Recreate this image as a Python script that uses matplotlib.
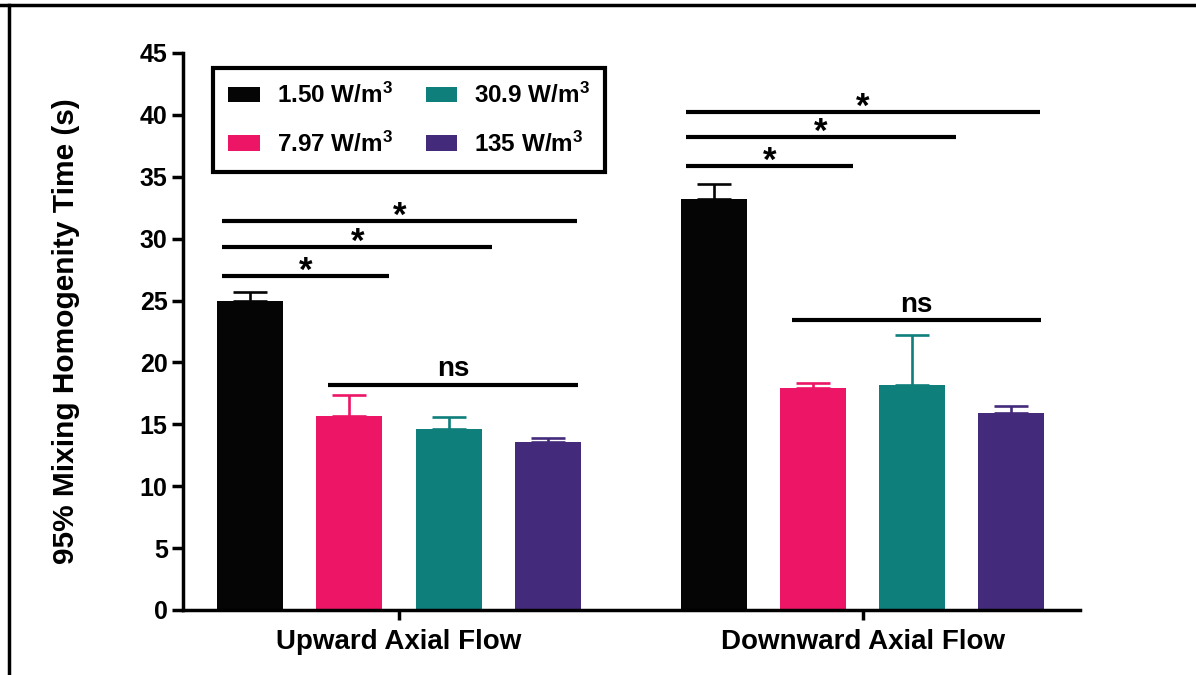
import numpy as np
import matplotlib
matplotlib.use("Agg")
import matplotlib.pyplot as plt
from matplotlib.lines import Line2D
from matplotlib.patches import Patch

plt.rcParams['font.family'] = ['Liberation Sans', 'DejaVu Sans']
plt.rcParams['font.weight'] = 'bold'
plt.rcParams['mathtext.fontset'] = 'custom'
plt.rcParams['mathtext.rm'] = 'Liberation Sans:bold'
plt.rcParams['mathtext.bf'] = 'Liberation Sans:bold'
plt.rcParams['mathtext.default'] = 'bf'

# data
groups = ["Upward Axial Flow", "Downward Axial Flow"]
series = ["1.50 W/m$^{3}$", "7.97 W/m$^{3}$", "30.9 W/m$^{3}$", "135 W/m$^{3}$"]
colors = ["#050505", "#ED1666", "#0F7F7B", "#442A7A"]
upward = [25.0, 15.7, 14.6, 13.6]
upward_err = [0.7, 1.65, 1.0, 0.28]
downward = [33.2, 17.9, 18.2, 15.9]
downward_err = [1.25, 0.46, 4.03, 0.56]

# significance brackets: (start, end) in bar slots within group, heights per group
star_spans = [(-0.28, 3.29), (-0.28, 2.44), (-0.28, 1.40)]
star_heights = [[31.4, 29.3, 27.0], [40.25, 38.2, 35.9]]
ns_span = (0.79, 3.30)
ns_heights = [18.2, 23.4]

group_offset = [0.0, 4.67]
bar_w = 0.665

fig = plt.figure(figsize=(11.96, 6.75), dpi=100)
ax = fig.add_axes([0.153, 0.0963, 0.750, 0.8252])

values = [upward, downward]
errs = [upward_err, downward_err]
for g in range(2):
    for i in range(4):
        x = group_offset[g] + i
        ax.bar(x, values[g][i], width=bar_w, color=colors[i], zorder=2)
        ax.errorbar(x, values[g][i], yerr=[[0], [errs[g][i]]], ecolor=colors[i],
                    elinewidth=1.9, capsize=12, capthick=1.9, fmt='none', zorder=1)

    for (a, b), h in zip(star_spans, star_heights[g]):
        x0, x1 = group_offset[g] + a, group_offset[g] + b
        ax.plot([x0, x1], [h, h], color='black', lw=3, solid_capstyle='butt')
        ax.text((x0 + x1) / 2, h - 0.4, "*", ha='center', va='baseline',
                fontsize=25, fontweight='bold')
    x0, x1 = group_offset[g] + ns_span[0], group_offset[g] + ns_span[1]
    h = ns_heights[g]
    ax.plot([x0, x1], [h, h], color='black', lw=3, solid_capstyle='butt')
    ax.text((x0 + x1) / 2, h + 0.7, "ns", ha='center', va='baseline',
            fontsize=20, fontweight='bold')

ax.set_ylim(0, 45)
ax.set_xlim(-0.675, 8.36)
ax.set_yticks(np.arange(0, 46, 5))
ax.set_xticks([g + 1.5 for g in group_offset])
ax.set_xticklabels(groups, fontsize=20, fontweight='bold')
ax.tick_params(axis='y', labelsize=18, length=8, width=2.5, pad=3)
ax.tick_params(axis='x', length=7, width=2.5, pad=7)
for s in ['top', 'right']:
    ax.spines[s].set_visible(False)
for s in ['left', 'bottom']:
    ax.spines[s].set_linewidth(2.5)

ax.set_ylabel("95% Mixing Homogenity Time (s)", fontsize=21.5, fontweight='bold')
ax.yaxis.set_label_coords(-0.115, 0.5)

handles = [Patch(facecolor=c, edgecolor='none') for c in colors]
leg = ax.legend(handles, series, ncol=2, loc='upper left',
                bbox_to_anchor=(0.0334, 0.973), borderaxespad=0,
                fontsize=17.5, frameon=True, fancybox=False, edgecolor='black',
                framealpha=1, handlelength=1.3, handleheight=0.6, handletextpad=0.7,
                columnspacing=1.35, labelspacing=0.95, borderpad=0.62)
leg.get_frame().set_linewidth(3)

# outer frame lines (top and left)
fig.add_artist(Line2D([0, 1], [0.9925, 0.9925], transform=fig.transFigure, color='black', lw=2.5))
fig.add_artist(Line2D([0.0075, 0.0075], [0, 0.9925], transform=fig.transFigure, color='black', lw=2.5))

fig.savefig("out.png", dpi=100)
